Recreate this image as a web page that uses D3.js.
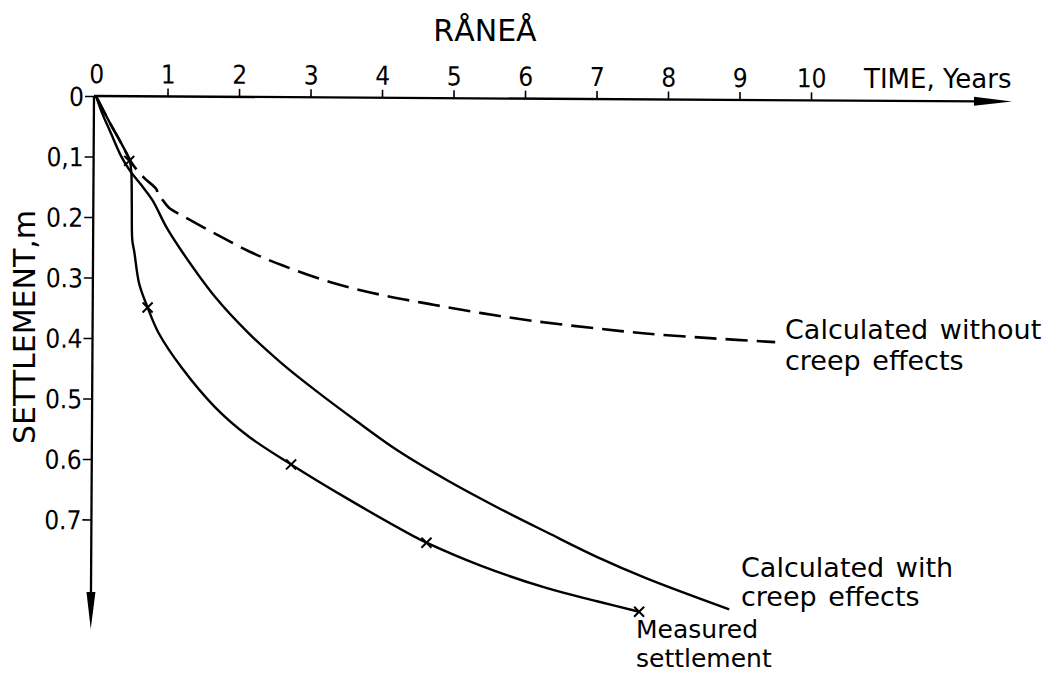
<!DOCTYPE html>
<html>
<head>
<meta charset="utf-8">
<script src="https://cdn.jsdelivr.net/npm/d3@7"></script>
<style>
  html, body { margin: 0; padding: 0; background: #fff; }
  svg { display: block; }
  text { font-family: "DejaVu Sans", sans-serif; fill: #000; }
  .num { font-family: "Liberation Sans Narrow", "DejaVu Sans Condensed", sans-serif; }
</style>
</head>
<body>
<svg id="chart" width="1052" height="673"></svg>
<script>
// Time in years, settlement in metres
const xTicks = [0, 1, 2, 3, 4, 5, 6, 7, 8, 9, 10];
const yTicks = [0, 0.1, 0.2, 0.3, 0.4, 0.5, 0.6, 0.7];
const yTickLabels = ["0", "0,1", "0.2", "0.3", "0.4", "0.5", "0.6", "0.7"];

// Measured settlement curve
const measuredT = [0, 0.2, 0.32, 0.43, 0.48, 0.50, 0.51, 0.52, 0.55, 0.62, 0.74, 0.9, 1.22, 1.69, 2.15, 2.76, 3.55, 4.49, 4.66, 5.41, 6.35, 7.05, 7.64];
const measuredS = [0, 0.045, 0.07, 0.094, 0.108, 0.125, 0.18, 0.238, 0.258, 0.31, 0.349, 0.392, 0.448, 0.513, 0.56, 0.607, 0.663, 0.725, 0.735, 0.772, 0.809, 0.830, 0.847];
// Measurement points
const pointT = [0.47, 0.74, 2.76, 4.66, 7.64];
const pointS = [0.107, 0.349, 0.607, 0.735, 0.847];

// Calculated with creep effects
const creepT = [0, 0.1, 0.2, 0.36, 0.48, 0.65, 0.80, 1.0, 1.22, 1.69, 2.15, 2.62, 3.09, 3.65, 4.25, 4.95, 5.65, 6.35, 7.05, 7.75, 8.9];
const creepS = [0, 0.032, 0.058, 0.1, 0.123, 0.148, 0.172, 0.217, 0.257, 0.332, 0.39, 0.44, 0.484, 0.533, 0.583, 0.632, 0.676, 0.717, 0.757, 0.792, 0.842];

// Calculated without creep effects
const noCreepT = [0, 0.2, 0.32, 0.43, 0.52, 0.68, 0.85, 0.88, 0.92, 1.03, 1.25, 1.69, 2.15, 2.62, 3.31, 4.01, 4.71, 5.41, 6.11, 7.01, 7.71, 8.6, 9.52];
const noCreepS = [0, 0.045, 0.07, 0.094, 0.113, 0.135, 0.153, 0.163, 0.168, 0.184, 0.199, 0.227, 0.255, 0.278, 0.306, 0.326, 0.341, 0.355, 0.367, 0.379, 0.387, 0.394, 0.4];

const svg = d3.select("#chart");
const x = d3.scaleLinear().domain([0, 10]).range([96, 811]);
const y = d3.scaleLinear().domain([0, 0.7]).range([96, 519.5]);
const ink = "#000";

// Plot frame, drawn with a slight clockwise tilt
const plot = svg.append("g").attr("transform", `rotate(0.35, ${x(0)}, ${y(0)})`);

// Time axis along the top with arrow
const xAxis = d3.axisTop(x).tickValues(xTicks).tickSize(8).tickSizeOuter(0).tickPadding(5);
const gx = plot.append("g").attr("transform", `translate(0,${y(0)})`).call(xAxis);
gx.select(".domain").remove();
gx.selectAll(".tick line").attr("stroke", ink).attr("stroke-width", 1.6);
gx.selectAll(".tick text").attr("class", "num").attr("font-size", 26).attr("font-family", null).attr("dy", 0).attr("y", -13);
gx.selectAll(".tick").filter(d => d === 0).select("line").remove();
plot.append("line").attr("x1", x(0) - 2).attr("y1", y(0)).attr("x2", 980).attr("y2", y(0))
  .attr("stroke", ink).attr("stroke-width", 2.3);
plot.append("path").attr("d", `M974,${y(0) - 4.5} L1012,${y(0)} L974,${y(0) + 4.5} Z`).attr("fill", ink);

// Settlement axis pointing down with arrow
const ax0 = x(0) - 2;
const yAxis = d3.axisLeft(y).tickValues(yTicks).tickFormat((d, i) => yTickLabels[i]).tickSize(9).tickSizeOuter(0).tickPadding(1);
const gy = plot.append("g").attr("transform", `translate(${ax0},0)`).call(yAxis);
gy.select(".domain").remove();
gy.selectAll(".tick line").attr("stroke", ink).attr("stroke-width", 1.6);
gy.selectAll(".tick text").attr("class", "num").attr("font-size", 26).attr("font-family", null).attr("dy", "0.36em");
plot.append("line").attr("x1", ax0).attr("y1", y(0)).attr("x2", ax0).attr("y2", 600)
  .attr("stroke", ink).attr("stroke-width", 2.3);
plot.append("path").attr("d", `M${ax0 - 4.5},592 L${ax0},629 L${ax0 + 4.5},592 Z`).attr("fill", ink);

// Curves
const line = d3.line().x(d => x(d[0])).y(d => y(d[1])).curve(d3.curveCatmullRom.alpha(0.5));
const zip = (a, b) => a.map((v, i) => [v, b[i]]);

plot.append("path").datum(zip(noCreepT, noCreepS)).attr("d", line)
  .attr("fill", "none").attr("stroke", ink).attr("stroke-width", 2.6).attr("stroke-dasharray", "22,9");
plot.append("path").datum(zip(creepT, creepS)).attr("d", line)
  .attr("fill", "none").attr("stroke", ink).attr("stroke-width", 2.4);
plot.append("path").datum(zip(measuredT, measuredS)).attr("d", line)
  .attr("fill", "none").attr("stroke", ink).attr("stroke-width", 2.4);

// Measurement crosses
const cross = plot.append("g");
zip(pointT, pointS).forEach(([t, s]) => {
  const cx = x(t), cy = y(s), r = 5;
  cross.append("path").attr("d", `M${cx - r},${cy - r} L${cx + r},${cy + r} M${cx + r},${cy - r} L${cx - r},${cy + r}`)
    .attr("stroke", ink).attr("stroke-width", 2);
});

// Titles
svg.append("text").attr("x", 485).attr("y", 41).attr("text-anchor", "middle").attr("font-size", 30).text("RÅNEÅ");
svg.append("text").attr("x", 864).attr("y", 88).attr("font-size", 26).text("TIME, Years");
svg.append("text").attr("transform", "translate(35,327) rotate(-90)").attr("text-anchor", "middle")
  .attr("font-size", 30).text("SETTLEMENT,m");

// Curve labels, one text element per line
const label = (lines, lx, ly, gap, size) => {
  lines.forEach((s, i) => svg.append("text").attr("x", lx).attr("y", ly + i * gap)
    .attr("font-size", size).attr("word-spacing", 3).text(s));
};
label(["Calculated without", "creep effects"], 785, 339, 31, 27);
label(["Calculated with", "creep effects"], 741, 577, 29, 27);
label(["Measured", "settlement"], 636, 638, 29, 25);
</script>
</body>
</html>
